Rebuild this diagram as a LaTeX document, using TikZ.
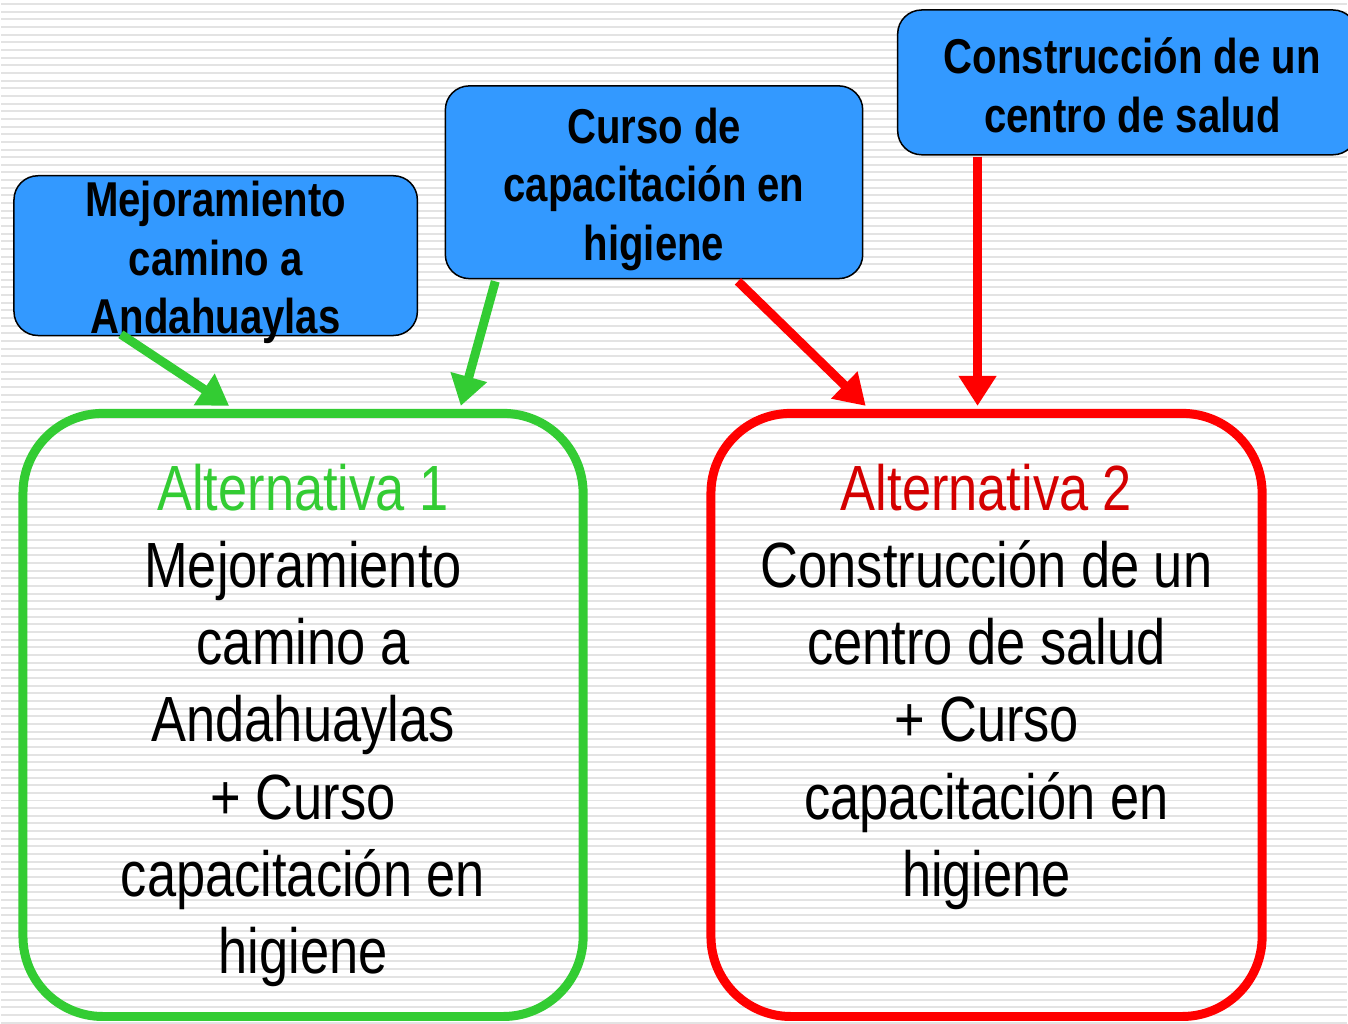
\documentclass[tikz,border=0pt]{standalone}
\usepackage{fontspec}
\setmainfont[FakeStretch=0.82]{Liberation Sans}
\usepackage{tikz}
\usetikzlibrary{arrows.meta,positioning,calc}
\definecolor{azulcaja}{HTML}{3399FF}
\definecolor{verdealt}{HTML}{33CC33}
\definecolor{rojoalt}{HTML}{FF0000}
\definecolor{rojotit}{HTML}{D40000}
\tikzset{
  caja/.style={rectangle, draw=black, fill=azulcaja, line width=1.5pt,
               rounded corners=24pt, inner sep=0pt},
  textocaja/.style={align=center, inner sep=0pt,
                    font=\fontsize{49}{58.5}\selectfont\bfseries},
  alternativa/.style={rectangle, line width=9pt, rounded corners=80pt,
                      inner sep=0pt, minimum height=604pt},
  texto/.style={align=center, inner sep=0pt, anchor=north,
                font=\fontsize{64}{77.3}\selectfont},
  flecha/.style={-{Triangle[length=30pt, width=36pt]}, line width=9pt},
  rayas/.style={gray!22, line width=2pt}
}
\begin{document}
\begin{tikzpicture}[x=1pt, y=-1pt]
  % fondo rayado
  \fill[white] (0,0) rectangle (1348,1025);
  \foreach \y in {4,11.67,...,1025} \draw[rayas] (0,\y) -- (1348,\y);
  \useasboundingbox (0,0) rectangle (1348,1025);
  % cajas de acciones
  \node[caja, minimum width=404pt, minimum height=160pt] (mej) at (215,256) {};
  \node[textocaja] (tmej) at ([yshift=-7pt]mej.center)
    {Mejoramiento\\camino a\\Andahuaylas};
  \node[caja, minimum width=418pt, minimum height=193pt] (cur) at (654,182.5) {};
  \node[textocaja] (tcur) at ([yshift=-7pt]cur.center)
    {Curso de\\capacitación en\\higiene};
  \node[caja, minimum width=460pt, minimum height=145pt] (cons) at (1128,82.5) {};
  \node[textocaja] (tcons) at ([xshift=5pt, yshift=-3pt]cons.center)
    {Construcción de un\\centro de salud};
  % alternativas
  \node[alternativa, draw=verdealt, minimum width=561pt] (alt1) at (302.5,716) {};
  \node[alternativa, draw=rojoalt, minimum width=552pt] (alt2) at (987,716) {};
  \node[texto] (t1) at ([yshift=-55pt]alt1.north)
    {\textcolor{verdealt}{Alternativa 1}\\Mejoramiento\\camino a\\Andahuaylas\\+ Curso\\capacitación en\\higiene};
  \node[texto] (t2) at ([yshift=-55pt]alt2.north)
    {\textcolor{rojotit}{Alternativa 2}\\Construcción de un\\centro de salud\\+ Curso\\capacitación en\\higiene};
  % flechas
  \draw[flecha, verdealt] ([xshift=-95pt, yshift=2pt]mej.south) -- ([xshift=-74pt, yshift=3pt]alt1.north);
  \draw[flecha, verdealt] ([xshift=-159pt, yshift=-2pt]cur.south) -- ([xshift=158pt, yshift=3pt]alt1.north);
  \draw[flecha, rojoalt] ([xshift=84pt, yshift=-2pt]cur.south) -- ([xshift=-121pt, yshift=3pt]alt2.north);
  \draw[flecha, rojoalt] ([xshift=-150pt, yshift=-1pt]cons.south) -- ([xshift=-9pt, yshift=3pt]alt2.north);
\end{tikzpicture}
\end{document}
